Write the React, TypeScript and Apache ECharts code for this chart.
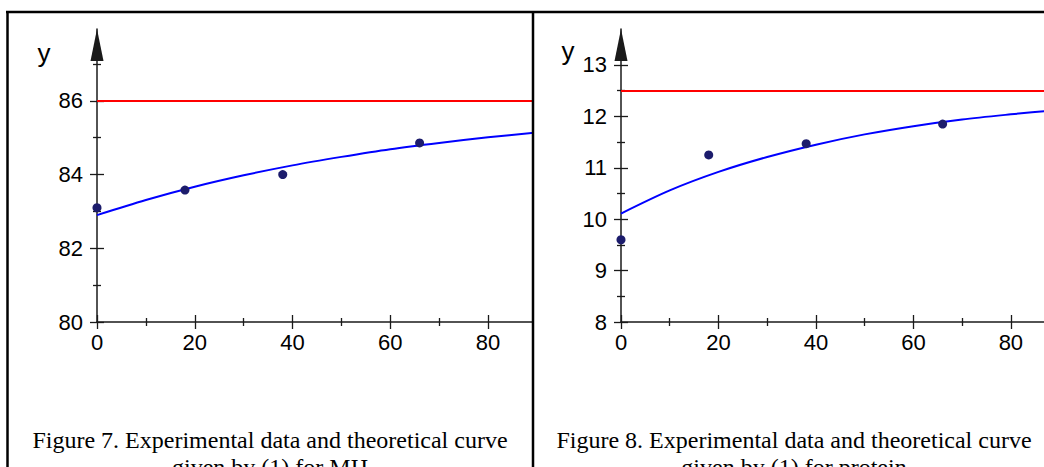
import React, { useEffect, useRef } from "react";
import * as echarts from "echarts";

// ---- data ----
const sampleTimes = [0, 18, 38, 66];
const mhValues = [83.1, 83.58, 84.0, 84.86];
const proteinValues = [9.6, 11.25, 11.47, 11.85];

const curveTimes = [0, 10, 20, 30, 40, 50, 60, 70, 80, 90];
const mhCurve = [82.9, 83.31, 83.67, 83.98, 84.25, 84.48, 84.69, 84.86, 85.01, 85.14];
const proteinCurve = [10.11, 10.56, 10.92, 11.21, 11.45, 11.65, 11.81, 11.94, 12.04, 12.13];

const mhLimit = 86;
const proteinLimit = 12.5;

const xMajorTicks = [0, 20, 40, 60, 80];
const xMinorTicks = [10, 30, 50, 70];
const mhMajorTicks = [80, 82, 84, 86];
const mhMinorTicks = [81, 83, 85, 87];
const proteinMajorTicks = [8, 9, 10, 11, 12, 13];
const proteinMinorTicks = [8.5, 9.5, 10.5, 11.5, 12.5];

const captionMH = "Figure 7. Experimental data and theoretical curve\ngiven by (1) for MH";
const captionProtein = "Figure 8. Experimental data and theoretical curve\ngiven by (1) for protein";
const yName = "y";

const SANS = "'Liberation Sans', Arial, sans-serif";
const SERIF = "'Liberation Serif', 'Times New Roman', serif";
const AXIS_COLOR = "#1a1a1a";

function buildAxes(dim: "x" | "y", gridIndex: number, min: number, max: number, major: number[], minor: number[]) {
  const position = dim === "x" ? "bottom" : "left";
  const base = {
    type: "value",
    gridIndex,
    position,
    offset: 0,
    min,
    max,
    splitLine: { show: false },
  };
  const primary: any = {
    ...base,
    axisLine: {
      show: true,
      onZero: false,
      lineStyle: { color: AXIS_COLOR, width: 1.5 },
      ...(dim === "y"
        ? { symbol: ["none", "triangle"], symbolSize: [13, 32], symbolOffset: [0, -16] }
        : {}),
    },
    axisTick: { show: true, inside: false, length: 7, customValues: major, lineStyle: { color: AXIS_COLOR, width: 1.3 } },
    axisLabel: {
      show: true,
      customValues: major,
      color: "#000",
      fontFamily: SANS,
      fontSize: 22,
      margin: dim === "x" ? 9 : 14,
    },
  };
  const extra = (vals: number[], len: number, inside: boolean): any => ({
    ...base,
    axisLine: { show: false, onZero: false },
    axisLabel: { show: false },
    axisTick: { show: true, inside, length: len, customValues: vals, lineStyle: { color: AXIS_COLOR, width: 1.3 } },
  });
  return [primary, extra(major, 7, true), extra(minor, 4, false), extra(minor, 4, true)];
}

export default function App() {
  const ref = useRef<HTMLDivElement>(null);
  useEffect(() => {
    if (!ref.current) return;
    const chart = echarts.init(ref.current, undefined, { renderer: "svg" });
    const leftXMax = 89.2;
    const rightXMax = 86.8;
    const pairs = (xs: number[], ys: number[]) => xs.map((x, i) => [x, ys[i]]);

    const option: any = {
      animation: false,
      backgroundColor: "#fff",
      grid: [
        { left: 97, right: 1044 - 533, top: 29, bottom: 145 },
        { left: 621, right: 0, top: 29, bottom: 145 },
      ],
      xAxis: [
        ...buildAxes("x", 0, 0, leftXMax, xMajorTicks, xMinorTicks),
        ...buildAxes("x", 1, 0, rightXMax, xMajorTicks, xMinorTicks),
      ],
      yAxis: [
        ...buildAxes("y", 0, 80, 87.95, mhMajorTicks, mhMinorTicks),
        ...buildAxes("y", 1, 8, 13.7, proteinMajorTicks, proteinMinorTicks),
      ],
      series: [
        {
          type: "line",
          xAxisIndex: 0,
          yAxisIndex: 0,
          data: pairs(curveTimes, mhCurve),
          smooth: 0.3,
          symbol: "none",
          lineStyle: { color: "#0000ff", width: 2 },
          markLine: {
            silent: true,
            symbol: "none",
            label: { show: false },
            lineStyle: { color: "#ff0000", width: 2, type: "solid" },
            data: [{ yAxis: mhLimit }],
          },
          z: 2,
        },
        {
          type: "scatter",
          xAxisIndex: 0,
          yAxisIndex: 0,
          data: pairs(sampleTimes, mhValues),
          symbolSize: 9,
          itemStyle: { color: "#1c1c6c", opacity: 1 },
          z: 3,
        },
        {
          type: "line",
          xAxisIndex: 4,
          yAxisIndex: 4,
          data: pairs(curveTimes, proteinCurve),
          smooth: 0.3,
          symbol: "none",
          lineStyle: { color: "#0000ff", width: 2 },
          markLine: {
            silent: true,
            symbol: "none",
            label: { show: false },
            lineStyle: { color: "#ff0000", width: 2, type: "solid" },
            data: [{ yAxis: proteinLimit }],
          },
          z: 2,
        },
        {
          type: "scatter",
          xAxisIndex: 4,
          yAxisIndex: 4,
          data: pairs(sampleTimes, proteinValues),
          symbolSize: 9,
          itemStyle: { color: "#1c1c6c", opacity: 1 },
          z: 3,
        },
      ],
      graphic: [
        { type: "line", shape: { x1: 6, y1: 12, x2: 1044, y2: 12 }, style: { stroke: "#000", lineWidth: 2.5 }, z: 10 },
        { type: "line", shape: { x1: 7.5, y1: 11, x2: 7.5, y2: 467 }, style: { stroke: "#000", lineWidth: 2.5 }, z: 10 },
        { type: "line", shape: { x1: 533, y1: 11, x2: 533, y2: 467 }, style: { stroke: "#000", lineWidth: 2.5 }, z: 10 },
        {
          type: "text",
          x: 44,
          y: 53,
          style: { text: yName, font: `26px ${SANS}`, fill: "#000", align: "center", verticalAlign: "middle" },
          z: 10,
        },
        {
          type: "text",
          x: 568,
          y: 51,
          style: { text: yName, font: `26px ${SANS}`, fill: "#000", align: "center", verticalAlign: "middle" },
          z: 10,
        },
        {
          type: "text",
          x: 270,
          y: 426,
          style: { text: captionMH, font: `24px ${SERIF}`, lineHeight: 27, fill: "#000", align: "center", verticalAlign: "top" },
          z: 10,
        },
        {
          type: "text",
          x: 794,
          y: 426,
          style: { text: captionProtein, font: `24px ${SERIF}`, lineHeight: 27, fill: "#000", align: "center", verticalAlign: "top" },
          z: 10,
        },
      ],
    };
    chart.setOption(option);
    return () => chart.dispose();
  }, []);
  return <div ref={ref} style={{ position: "fixed", left: 0, top: 0, width: 1044, height: 467 }} />;
}
